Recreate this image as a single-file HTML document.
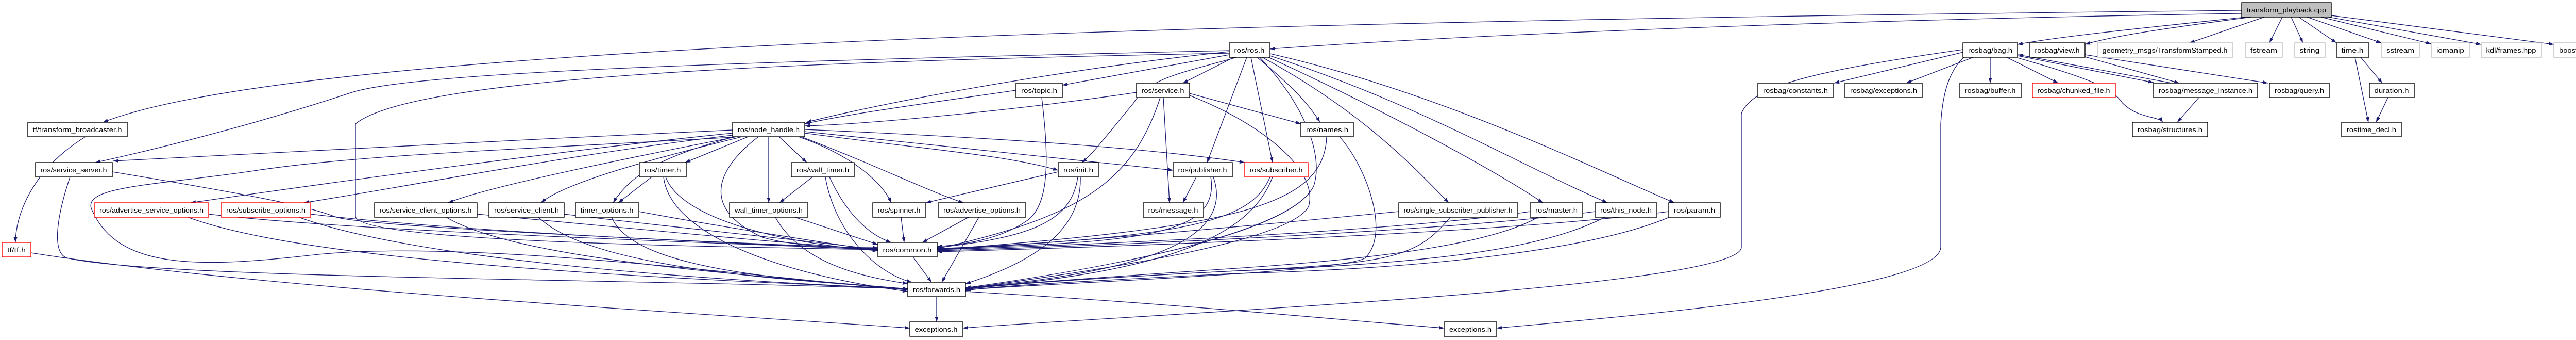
<!DOCTYPE html>
<html><head><meta charset="utf-8"><style>
html,body{margin:0;padding:0;background:#fff;}
svg{display:block;}
text{font-family:"Liberation Sans",sans-serif;font-size:13px;fill:#000;}
.e{fill:none;stroke:#191970;stroke-width:1.3;marker-end:url(#a);}
.n{fill:#fff;stroke:#000;stroke-width:1.4;}
.g{fill:#fff;stroke:#bfbfbf;stroke-width:1.4;}
.r{fill:#fff;stroke:#ff0000;stroke-width:1.4;}
.t{fill:#bfbfbf;stroke:#000;stroke-width:1.4;}
</style></head><body>
<svg width="5104" height="659" viewBox="0 0 5104 659" xmlns="http://www.w3.org/2000/svg">
<defs><marker id="a" markerUnits="userSpaceOnUse" markerWidth="11" markerHeight="8" refX="10" refY="3.5" orient="auto"><path d="M0,0 L10,3.5 L0,7 z" fill="#191970"/></marker></defs>
<g>
<path class="e" d="M4351,20 C2500,40 600,80 200,237"/>
<path class="e" d="M4351,26 C3500,40 2800,70 2465,95"/>
<path class="e" d="M2386,98 C1400,120 800,140 680,180 C500,240 300,290 185,315"/>
<path class="e" d="M2386,103 C1500,120 800,150 690,240 L690,420 C700,470 1400,478 1704,484"/>
<path class="e" d="M4360,33 C4200,50 4000,70 3916,86"/>
<path class="e" d="M4370,33 C4200,55 4100,70 4047,86"/>
<path class="e" d="M4395,33 L4250,83"/>
<path class="e" d="M4430,33 L4405,83"/>
<path class="e" d="M4447,33 L4470,83"/>
<path class="e" d="M4462,33 L4535,83"/>
<path class="e" d="M4478,33 L4622,83"/>
<path class="e" d="M4505,33 L4719,85"/>
<path class="e" d="M4520,33 L4816,86"/>
<path class="e" d="M4525,30 L4957,86"/>
<path class="e" d="M2386,100 C2100,130 1750,190 1565,237"/>
<path class="e" d="M2386,106 C2250,130 2150,150 2062,165"/>
<path class="e" d="M2395,111 L2296,161"/>
<path class="e" d="M2400,111 C2300,140 2230,150 2200,200 C2150,260 2120,300 2100,315"/>
<path class="e" d="M2420,111 L2343,315"/>
<path class="e" d="M2428,111 L2470,315"/>
<path class="e" d="M2440,111 C2500,160 2540,200 2562,237"/>
<path class="e" d="M2450,111 C2650,220 2750,330 2812,393"/>
<path class="e" d="M2462,111 C2700,220 2900,330 2995,393"/>
<path class="e" d="M2465,108 C2750,200 2950,320 3120,393"/>
<path class="e" d="M2465,104 C2800,180 3100,330 3250,393"/>
<path class="e" d="M2445,111 C2530,200 2570,300 2550,360 C2500,470 2000,540 1874,558"/>
<path class="e" d="M1422,252 C1000,270 500,300 220,312"/>
<path class="e" d="M1422,258 C1100,290 600,360 370,393"/>
<path class="e" d="M1422,262 C1100,300 800,360 590,393"/>
<path class="e" d="M1430,265 C1250,300 950,360 870,393"/>
<path class="e" d="M1440,265 C1300,300 1100,350 1050,393"/>
<path class="e" d="M1452,265 L1330,315"/>
<path class="e" d="M1425,265 C1300,300 1230,330 1190,393"/>
<path class="e" d="M1512,265 L1566,315"/>
<path class="e" d="M1492,265 L1492,393"/>
<path class="e" d="M1550,265 C1650,300 1710,350 1730,393"/>
<path class="e" d="M1555,265 C1700,320 1800,370 1870,393"/>
<path class="e" d="M1562,258 C1800,290 1950,300 2054,330"/>
<path class="e" d="M1562,255 C1900,290 2100,310 2277,330"/>
<path class="e" d="M1562,251 C2000,270 2250,290 2416,315"/>
<path class="e" d="M1472,265 C1400,320 1350,400 1480,460 C1550,480 1650,480 1704,480"/>
<path class="e" d="M1422,266 C1000,290 700,300 500,330 C300,360 150,360 180,410 C230,520 380,520 600,495 C900,460 1500,540 1762,562"/>
<path class="e" d="M1972,175 C1800,200 1650,220 1562,240"/>
<path class="e" d="M2022,189 C2035,300 2040,400 1990,430 C1930,470 1850,475 1819,478"/>
<path class="e" d="M2206,179 C2000,210 1700,240 1562,244"/>
<path class="e" d="M2258,189 L2270,393"/>
<path class="e" d="M2309,181 L2525,240"/>
<path class="e" d="M2252,189 C2200,350 2100,420 1819,482"/>
<path class="e" d="M2309,185 C2450,240 2560,330 2540,400 C2500,480 2000,540 1874,560"/>
<path class="e" d="M2575,265 C2570,400 2400,440 1819,484"/>
<path class="e" d="M2600,265 C2650,320 2700,450 2650,500 C2600,530 2000,550 1874,562"/>
<path class="e" d="M1265,343 L1200,393"/>
<path class="e" d="M1292,343 C1320,420 1500,470 1704,486"/>
<path class="e" d="M1288,343 C1300,450 1500,530 1762,565"/>
<path class="e" d="M1577,343 L1513,393"/>
<path class="e" d="M1610,343 C1650,430 1700,460 1730,470"/>
<path class="e" d="M1602,343 C1620,450 1700,530 1770,547"/>
<path class="e" d="M2054,333 L1797,393"/>
<path class="e" d="M2092,343 C2080,430 2000,460 1819,480"/>
<path class="e" d="M2097,343 C2100,450 2000,510 1874,550"/>
<path class="e" d="M2322,343 L2296,393"/>
<path class="e" d="M2350,343 C2370,460 2200,470 1819,482"/>
<path class="e" d="M2355,343 C2400,470 2200,530 1874,558"/>
<path class="e" d="M2465,343 C2430,430 2300,460 1819,482"/>
<path class="e" d="M2470,343 C2420,480 2200,530 1874,560"/>
<path class="e" d="M218,333 C500,380 600,400 650,420 C700,440 1400,470 1704,482"/>
<path class="e" d="M136,343 C110,420 100,490 130,500 C300,540 1200,540 1762,560"/>
<path class="e" d="M405,415 C700,450 1400,470 1704,484"/>
<path class="e" d="M365,421 C600,510 1300,540 1762,560"/>
<path class="e" d="M603,415 C900,450 1400,470 1704,484"/>
<path class="e" d="M580,421 C800,500 1300,540 1762,560"/>
<path class="e" d="M926,415 C1200,440 1500,470 1704,484"/>
<path class="e" d="M866,421 C1000,500 1400,530 1762,560"/>
<path class="e" d="M1095,415 C1300,440 1600,470 1704,484"/>
<path class="e" d="M1045,421 C1150,520 1500,540 1762,560"/>
<path class="e" d="M1240,410 C1400,440 1600,470 1704,486"/>
<path class="e" d="M1187,421 C1230,520 1500,540 1762,560"/>
<path class="e" d="M1543,421 L1704,474"/>
<path class="e" d="M1505,421 C1560,520 1700,540 1762,550"/>
<path class="e" d="M1749,421 L1755,470"/>
<path class="e" d="M1880,421 L1790,470"/>
<path class="e" d="M1900,421 L1828,547"/>
<path class="e" d="M2715,410 C2300,450 2000,475 1819,484"/>
<path class="e" d="M2815,421 C2750,500 2700,510 2400,525 C2100,540 1900,555 1874,560"/>
<path class="e" d="M2970,410 C2700,450 2100,475 1819,484"/>
<path class="e" d="M2985,421 C2900,470 2700,500 2400,520 C2100,540 1900,555 1874,560"/>
<path class="e" d="M3096,410 C2800,450 2100,478 1819,486"/>
<path class="e" d="M3115,421 C3000,480 2800,510 2400,525 C2100,540 1900,555 1874,562"/>
<path class="e" d="M3239,410 C2900,455 2100,480 1819,488"/>
<path class="e" d="M3240,421 C3100,480 2800,520 2400,530 C2100,545 1900,556 1874,564"/>
<path class="e" d="M1772,498 L1808,547"/>
<path class="e" d="M1818,575 L1818,624"/>
<path class="e" d="M1874,565 C2300,590 2600,620 2803,636"/>
<path class="e" d="M166,265 C60,330 30,420 30,470"/>
<path class="e" d="M60,490 C500,560 1400,610 1766,636"/>
<path class="e" d="M3810,96 C3500,140 3400,170 3380,220 L3380,480 C3370,560 2200,610 1869,636"/>
<path class="e" d="M3812,111 C3780,140 3770,190 3767,240 L3767,480 C3760,560 3200,610 2905,636"/>
<path class="e" d="M3815,100 L3560,161"/>
<path class="e" d="M3830,111 L3700,161"/>
<path class="e" d="M3863,111 L3863,161"/>
<path class="e" d="M3895,111 L3995,161"/>
<path class="e" d="M3916,108 L4180,160"/>
<path class="e" d="M4215,161 L3917,106"/>
<path class="e" d="M3916,112 C4050,150 4100,170 4120,200 C4150,230 4190,225 4198,237"/>
<path class="e" d="M4047,110 L4230,161"/>
<path class="e" d="M4047,106 L4402,161"/>
<path class="e" d="M4571,111 L4597,237"/>
<path class="e" d="M4582,111 L4624,161"/>
<path class="e" d="M4635,189 L4612,237"/>
<path class="e" d="M4268,189 L4226,237"/>
</g>
<g>
<rect class="t" x="4351" y="5" width="174" height="28"/><text x="4438" y="24" text-anchor="middle" textLength="154" lengthAdjust="spacingAndGlyphs">transform_playback.cpp</text>
<rect class="n" x="3810" y="83" width="106" height="28"/><text x="3863" y="102" text-anchor="middle" textLength="86" lengthAdjust="spacingAndGlyphs">rosbag/bag.h</text>
<rect class="n" x="3940" y="83" width="107" height="28"/><text x="3993" y="102" text-anchor="middle" textLength="87" lengthAdjust="spacingAndGlyphs">rosbag/view.h</text>
<rect class="g" x="4071" y="83" width="263" height="28"/><text x="4202" y="102" text-anchor="middle" textLength="243" lengthAdjust="spacingAndGlyphs">geometry_msgs/TransformStamped.h</text>
<rect class="g" x="4358" y="83" width="72" height="28"/><text x="4394" y="102" text-anchor="middle" textLength="52" lengthAdjust="spacingAndGlyphs">fstream</text>
<rect class="g" x="4454" y="83" width="59" height="28"/><text x="4483" y="102" text-anchor="middle" textLength="39" lengthAdjust="spacingAndGlyphs">string</text>
<rect class="n" x="4535" y="83" width="63" height="28"/><text x="4566" y="102" text-anchor="middle" textLength="43" lengthAdjust="spacingAndGlyphs">time.h</text>
<rect class="g" x="4622" y="83" width="74" height="28"/><text x="4659" y="102" text-anchor="middle" textLength="54" lengthAdjust="spacingAndGlyphs">sstream</text>
<rect class="g" x="4719" y="83" width="74" height="28"/><text x="4756" y="102" text-anchor="middle" textLength="54" lengthAdjust="spacingAndGlyphs">iomanip</text>
<rect class="g" x="4816" y="83" width="117" height="28"/><text x="4874" y="102" text-anchor="middle" textLength="97" lengthAdjust="spacingAndGlyphs">kdl/frames.hpp</text>
<rect class="g" x="4957" y="83" width="138" height="28"/><text x="5026" y="102" text-anchor="middle" textLength="118" lengthAdjust="spacingAndGlyphs">boost/foreach.hpp</text>
<rect class="n" x="2386" y="83" width="79" height="28"/><text x="2425" y="102" text-anchor="middle" textLength="59" lengthAdjust="spacingAndGlyphs">ros/ros.h</text>
<rect class="n" x="1972" y="161" width="90" height="28"/><text x="2017" y="180" text-anchor="middle" textLength="70" lengthAdjust="spacingAndGlyphs">ros/topic.h</text>
<rect class="n" x="2206" y="161" width="103" height="28"/><text x="2257" y="180" text-anchor="middle" textLength="83" lengthAdjust="spacingAndGlyphs">ros/service.h</text>
<rect class="n" x="3412" y="161" width="146" height="28"/><text x="3485" y="180" text-anchor="middle" textLength="126" lengthAdjust="spacingAndGlyphs">rosbag/constants.h</text>
<rect class="n" x="3581" y="161" width="150" height="28"/><text x="3656" y="180" text-anchor="middle" textLength="130" lengthAdjust="spacingAndGlyphs">rosbag/exceptions.h</text>
<rect class="n" x="3804" y="161" width="119" height="28"/><text x="3863" y="180" text-anchor="middle" textLength="99" lengthAdjust="spacingAndGlyphs">rosbag/buffer.h</text>
<rect class="r" x="3945" y="161" width="161" height="28"/><text x="4025" y="180" text-anchor="middle" textLength="141" lengthAdjust="spacingAndGlyphs">rosbag/chunked_file.h</text>
<rect class="n" x="4180" y="161" width="202" height="28"/><text x="4281" y="180" text-anchor="middle" textLength="182" lengthAdjust="spacingAndGlyphs">rosbag/message_instance.h</text>
<rect class="n" x="4405" y="161" width="116" height="28"/><text x="4463" y="180" text-anchor="middle" textLength="96" lengthAdjust="spacingAndGlyphs">rosbag/query.h</text>
<rect class="n" x="4599" y="161" width="87" height="28"/><text x="4642" y="180" text-anchor="middle" textLength="67" lengthAdjust="spacingAndGlyphs">duration.h</text>
<rect class="n" x="54" y="237" width="193" height="28"/><text x="150" y="256" text-anchor="middle" textLength="173" lengthAdjust="spacingAndGlyphs">tf/transform_broadcaster.h</text>
<rect class="n" x="1422" y="237" width="140" height="28"/><text x="1492" y="256" text-anchor="middle" textLength="120" lengthAdjust="spacingAndGlyphs">ros/node_handle.h</text>
<rect class="n" x="2525" y="237" width="102" height="28"/><text x="2576" y="256" text-anchor="middle" textLength="82" lengthAdjust="spacingAndGlyphs">ros/names.h</text>
<rect class="n" x="4139" y="237" width="146" height="28"/><text x="4212" y="256" text-anchor="middle" textLength="126" lengthAdjust="spacingAndGlyphs">rosbag/structures.h</text>
<rect class="n" x="4545" y="237" width="116" height="28"/><text x="4603" y="256" text-anchor="middle" textLength="96" lengthAdjust="spacingAndGlyphs">rostime_decl.h</text>
<rect class="n" x="69" y="315" width="149" height="28"/><text x="143" y="334" text-anchor="middle" textLength="129" lengthAdjust="spacingAndGlyphs">ros/service_server.h</text>
<rect class="n" x="1241" y="315" width="91" height="28"/><text x="1286" y="334" text-anchor="middle" textLength="71" lengthAdjust="spacingAndGlyphs">ros/timer.h</text>
<rect class="n" x="1536" y="315" width="122" height="28"/><text x="1597" y="334" text-anchor="middle" textLength="102" lengthAdjust="spacingAndGlyphs">ros/wall_timer.h</text>
<rect class="n" x="2054" y="315" width="78" height="28"/><text x="2093" y="334" text-anchor="middle" textLength="58" lengthAdjust="spacingAndGlyphs">ros/init.h</text>
<rect class="n" x="2277" y="315" width="115" height="28"/><text x="2334" y="334" text-anchor="middle" textLength="95" lengthAdjust="spacingAndGlyphs">ros/publisher.h</text>
<rect class="r" x="2416" y="315" width="123" height="28"/><text x="2477" y="334" text-anchor="middle" textLength="103" lengthAdjust="spacingAndGlyphs">ros/subscriber.h</text>
<rect class="r" x="183" y="393" width="222" height="28"/><text x="294" y="412" text-anchor="middle" textLength="202" lengthAdjust="spacingAndGlyphs">ros/advertise_service_options.h</text>
<rect class="r" x="429" y="393" width="174" height="28"/><text x="516" y="412" text-anchor="middle" textLength="154" lengthAdjust="spacingAndGlyphs">ros/subscribe_options.h</text>
<rect class="n" x="727" y="393" width="199" height="28"/><text x="826" y="412" text-anchor="middle" textLength="179" lengthAdjust="spacingAndGlyphs">ros/service_client_options.h</text>
<rect class="n" x="949" y="393" width="146" height="28"/><text x="1022" y="412" text-anchor="middle" textLength="126" lengthAdjust="spacingAndGlyphs">ros/service_client.h</text>
<rect class="n" x="1117" y="393" width="123" height="28"/><text x="1178" y="412" text-anchor="middle" textLength="103" lengthAdjust="spacingAndGlyphs">timer_options.h</text>
<rect class="n" x="1416" y="393" width="152" height="28"/><text x="1492" y="412" text-anchor="middle" textLength="132" lengthAdjust="spacingAndGlyphs">wall_timer_options.h</text>
<rect class="n" x="1694" y="393" width="103" height="28"/><text x="1745" y="412" text-anchor="middle" textLength="83" lengthAdjust="spacingAndGlyphs">ros/spinner.h</text>
<rect class="n" x="1821" y="393" width="170" height="28"/><text x="1906" y="412" text-anchor="middle" textLength="150" lengthAdjust="spacingAndGlyphs">ros/advertise_options.h</text>
<rect class="n" x="2219" y="393" width="117" height="28"/><text x="2277" y="412" text-anchor="middle" textLength="97" lengthAdjust="spacingAndGlyphs">ros/message.h</text>
<rect class="n" x="2715" y="393" width="231" height="28"/><text x="2830" y="412" text-anchor="middle" textLength="211" lengthAdjust="spacingAndGlyphs">ros/single_subscriber_publisher.h</text>
<rect class="n" x="2970" y="393" width="102" height="28"/><text x="3021" y="412" text-anchor="middle" textLength="82" lengthAdjust="spacingAndGlyphs">ros/master.h</text>
<rect class="n" x="3096" y="393" width="120" height="28"/><text x="3156" y="412" text-anchor="middle" textLength="100" lengthAdjust="spacingAndGlyphs">ros/this_node.h</text>
<rect class="n" x="3239" y="393" width="100" height="28"/><text x="3289" y="412" text-anchor="middle" textLength="80" lengthAdjust="spacingAndGlyphs">ros/param.h</text>
<rect class="r" x="4" y="470" width="56" height="28"/><text x="32" y="489" text-anchor="middle" textLength="36" lengthAdjust="spacingAndGlyphs">tf/tf.h</text>
<rect class="n" x="1704" y="470" width="115" height="28"/><text x="1761" y="489" text-anchor="middle" textLength="95" lengthAdjust="spacingAndGlyphs">ros/common.h</text>
<rect class="n" x="1762" y="547" width="112" height="28"/><text x="1818" y="566" text-anchor="middle" textLength="92" lengthAdjust="spacingAndGlyphs">ros/forwards.h</text>
<rect class="n" x="1766" y="624" width="103" height="28"/><text x="1817" y="643" text-anchor="middle" textLength="83" lengthAdjust="spacingAndGlyphs">exceptions.h</text>
<rect class="n" x="2803" y="624" width="102" height="28"/><text x="2854" y="643" text-anchor="middle" textLength="82" lengthAdjust="spacingAndGlyphs">exceptions.h</text>
</g>
</svg>
</body></html>
